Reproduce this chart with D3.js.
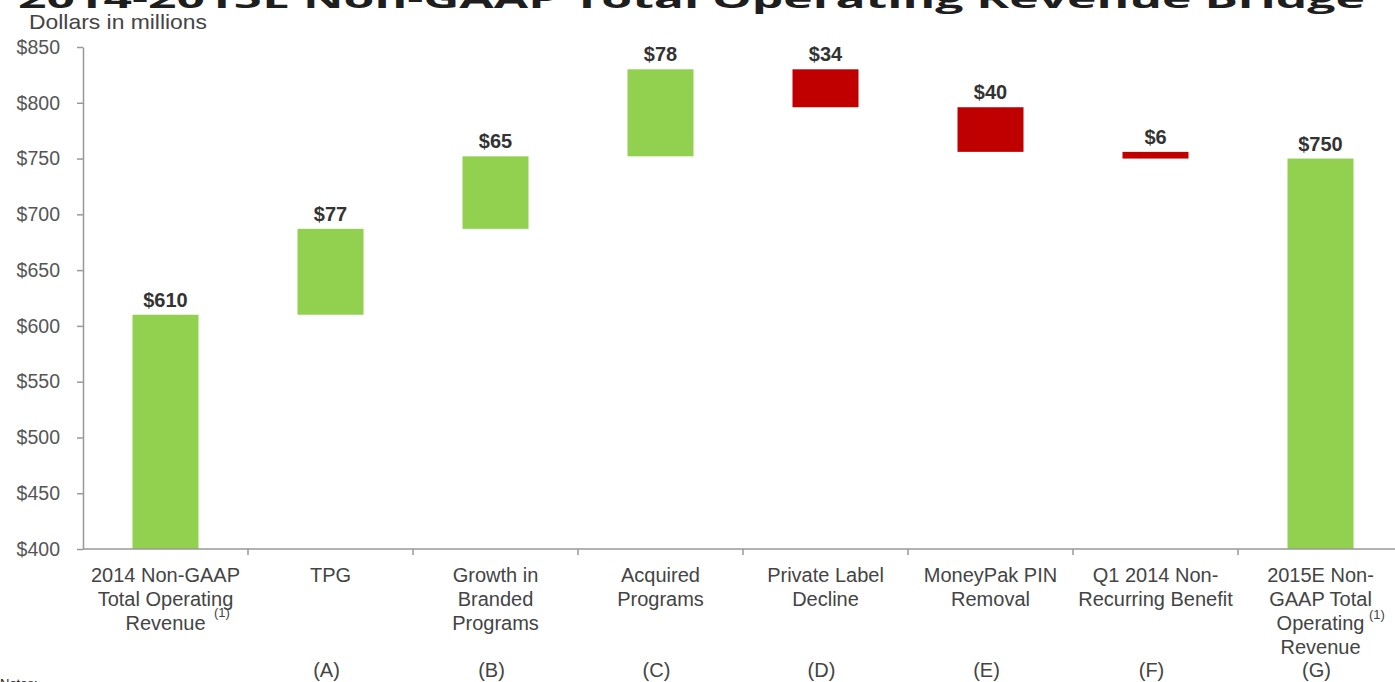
<!DOCTYPE html>
<html>
<head>
<meta charset="utf-8">
<script src="https://cdn.jsdelivr.net/npm/d3@7"></script>
<style>
  body { margin: 0; background: #fff; }
  svg { display: block; font-family: "Liberation Sans", Arial, sans-serif; }
</style>
</head>
<body>
<svg id="chart" width="1395" height="682"></svg>
<script>
const categories = ["start", "A", "B", "C", "D", "E", "F", "G"];
const categoryLines = [
  ["2014 Non-GAAP", "Total Operating", "Revenue"],
  ["TPG"],
  ["Growth in", "Branded", "Programs"],
  ["Acquired", "Programs"],
  ["Private Label", "Decline"],
  ["MoneyPak PIN", "Removal"],
  ["Q1 2014 Non-", "Recurring Benefit"],
  ["2015E Non-", "GAAP Total", "Operating", "Revenue"]
];
const letters = ["", "(A)", "(B)", "(C)", "(D)", "(E)", "(F)", "(G)"];
const values = [610, 77, 65, 78, -34, -40, -6, 750];
const kinds = ["total", "delta", "delta", "delta", "delta", "delta", "delta", "total"];
const valueLabels = ["$610", "$77", "$65", "$78", "$34", "$40", "$6", "$750"];
const yTicks = [400, 450, 500, 550, 600, 650, 700, 750, 800, 850];

const svg = d3.select("#chart");
const mLeft = 83, mRight = 1403, mTop = 47, mBottom = 549;

const x = d3.scaleBand().domain(categories).range([mLeft, mRight]).paddingInner(0.6).paddingOuter(0.3);
const y = d3.scaleLinear().domain([400, 850]).range([mBottom, mTop]);

// waterfall spans
let run = 0;
const bars = categories.map((c, i) => {
  let y0, y1;
  if (kinds[i] === "total") { y0 = 400; y1 = values[i]; run = values[i]; }
  else { y0 = run; y1 = run + values[i]; run = y1; }
  return { c, i, lo: Math.min(y0, y1), hi: Math.max(y0, y1), v: values[i] };
});

// title (cut off at top)
svg.append("text")
  .attr("transform", "translate(18,8) scale(1,0.6)")
  .attr("font-family", "'Open Sans', 'DejaVu Sans', sans-serif")
  .attr("font-weight", 700).attr("font-size", 46)
  .attr("fill", "#1e1e1e")
  .attr("textLength", 1347).attr("lengthAdjust", "spacingAndGlyphs")
  .text("2014-2015E Non-GAAP Total Operating Revenue Bridge");

svg.append("text")
  .attr("x", 29).attr("y", 29)
  .attr("font-size", 21).attr("fill", "#444")
  .attr("textLength", 178).attr("lengthAdjust", "spacingAndGlyphs")
  .text("Dollars in millions");

// y axis
const yAxis = svg.append("g").attr("transform", `translate(${mLeft},0)`)
  .call(d3.axisLeft(y).tickValues(yTicks).tickSize(6).tickSizeOuter(0).tickFormat(d => "$" + d).tickPadding(17));
yAxis.select(".domain").attr("stroke", "#999").attr("stroke-width", 1.5);
yAxis.selectAll(".tick line").attr("stroke", "#999").attr("stroke-width", 1.5);
yAxis.selectAll(".tick text").attr("font-size", 19.5).attr("fill", "#555")
  .attr("font-family", "'Liberation Sans', Arial, sans-serif");

// bars
svg.selectAll("rect.bar").data(bars).join("rect")
  .attr("class", "bar")
  .attr("x", d => x(d.c))
  .attr("width", x.bandwidth())
  .attr("y", d => y(d.hi))
  .attr("height", d => y(d.lo) - y(d.hi))
  .attr("fill", d => d.v < 0 ? "#C00000" : "#92D050");

// value labels
svg.selectAll("text.val").data(bars).join("text")
  .attr("class", "val")
  .attr("x", d => x(d.c) + x.bandwidth() / 2)
  .attr("y", d => y(d.hi) - 8)
  .attr("text-anchor", "middle")
  .attr("font-size", 20).attr("font-weight", 700).attr("fill", "#333")
  .text(d => valueLabels[d.i]);

// x axis line + boundary ticks
svg.append("line").attr("x1", mLeft).attr("x2", mRight).attr("y1", mBottom).attr("y2", mBottom)
  .attr("stroke", "#999").attr("stroke-width", 1.5);
const step = x.step();
svg.selectAll("line.xt").data(categories.slice(0, -1)).join("line")
  .attr("class", "xt")
  .attr("x1", c => x(c) + x.bandwidth() / 2 + step / 2)
  .attr("x2", c => x(c) + x.bandwidth() / 2 + step / 2)
  .attr("y1", mBottom).attr("y2", mBottom + 6)
  .attr("stroke", "#999").attr("stroke-width", 1.5);

// category labels
categories.forEach((c, i) => {
  const cx = x(c) + x.bandwidth() / 2;
  const t = svg.append("text").attr("text-anchor", "middle")
    .attr("font-size", 20).attr("fill", "#444");
  categoryLines[i].forEach((ln, j) => {
    t.append("tspan").attr("x", cx).attr("y", 582 + j * 24).text(ln);
  });
  svg.append("text").attr("x", cx - 4).attr("y", 677).attr("text-anchor", "middle")
    .attr("font-size", 20).attr("fill", "#444").text(letters[i]);
});

// footnote superscripts
svg.append("text").attr("x", 214).attr("y", 617).attr("font-size", 13).attr("fill", "#444").text("(1)");
svg.append("text").attr("x", 1369).attr("y", 619).attr("font-size", 13).attr("fill", "#444").text("(1)");

// notes (cut off at bottom)
svg.append("text").attr("x", 0).attr("y", 688).attr("font-size", 13).attr("fill", "#222").text("Notes:");
</script>
</body>
</html>
